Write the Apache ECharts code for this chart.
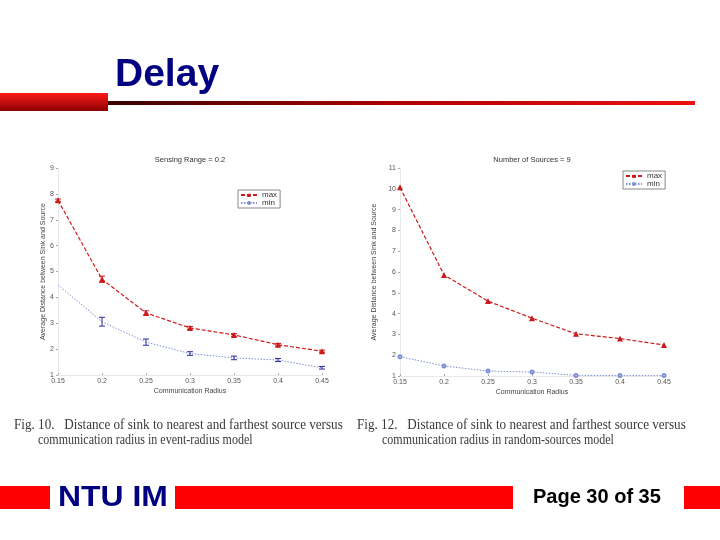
<!DOCTYPE html>
<html><head><meta charset="utf-8">
<script src="https://cdn.jsdelivr.net/npm/echarts@6/dist/echarts.min.js"></script>
<style>html,body{margin:0;padding:0;background:#fff}#c{width:720px;height:540px}</style>
</head><body><div id="c"></div>
<script>
const categories = ['0.15','0.2','0.25','0.3','0.35','0.4','0.45'];
const leftMax    = [7.75, 4.70, 3.40, 2.82, 2.55, 2.17, 1.92];
const leftMaxErr = [0.05, 0.12, 0.08, 0.05, 0.05, 0.05, 0.04];
const leftMin    = [4.48, 3.06, 2.27, 1.83, 1.66, 1.58, 1.28];
const leftMinErr = [0.00, 0.17, 0.12, 0.07, 0.07, 0.06, 0.05];
const rightMax   = [10.07, 5.86, 4.60, 3.78, 3.03, 2.80, 2.49];
const rightMin   = [1.93, 1.48, 1.24, 1.19, 1.03, 1.02, 1.02];
const leftTitle  = 'Sensing Range = 0.2';
const rightTitle = 'Number of Sources = 9';
const xName = 'Communication Radius';
const yName = 'Average Distance between Sink and Source';

const chart = echarts.init(document.getElementById('c'));
const MAXC = '#cc1a1a', MINC = '#7f8fd6', ERRC = '#2a2aa0';
const tickFont = {fontSize: 7, color: '#555', fontFamily: 'Arial'};

function errData(vals, errs){ return vals.map((v,i)=>[i, v-errs[i], v+errs[i]]); }
function errSeries(vals, errs, xi, yi, color){
  return {type:'custom', xAxisIndex:xi, yAxisIndex:yi, silent:true, z:5,
    data: errData(vals, errs),
    renderItem: function(params, api){
      const lo = api.coord([api.value(0), api.value(1)]);
      const hi = api.coord([api.value(0), api.value(2)]);
      if (Math.abs(hi[1]-lo[1]) < 1) return null;
      const w = 3;
      return {type:'group', children:[
        {type:'line', shape:{x1:lo[0],y1:lo[1],x2:hi[0],y2:hi[1]}, style:{stroke:color,lineWidth:1}},
        {type:'line', shape:{x1:lo[0]-w,y1:lo[1],x2:lo[0]+w,y2:lo[1]}, style:{stroke:color,lineWidth:1}},
        {type:'line', shape:{x1:hi[0]-w,y1:hi[1],x2:hi[0]+w,y2:hi[1]}, style:{stroke:color,lineWidth:1}}
      ]};
    }};
}
function xAxis(gi){
  return {type:'category', gridIndex:gi, data:categories, boundaryGap:false,
    axisLine:{show:true, lineStyle:{color:'#e8e8e8'}}, axisTick:{show:true, length:2, inside:true, lineStyle:{color:'#aaa'}},
    axisLabel:Object.assign({margin:3}, tickFont), splitLine:{show:false},
    name:xName, nameLocation:'middle', nameGap:13, nameTextStyle:{fontSize:7, color:'#444', fontFamily:'Arial'}};
}
function yAxis(gi, max, gap){
  return {type:'value', gridIndex:gi, min:1, max:max, interval:1,
    axisLine:{show:true, lineStyle:{color:'#e8e8e8'}}, axisTick:{show:true, length:2, lineStyle:{color:'#aaa'}},
    axisLabel:Object.assign({margin:4}, tickFont), splitLine:{show:false},
    name:yName, nameLocation:'middle', nameGap:gap, nameTextStyle:{fontSize:7, color:'#444', fontFamily:'Arial'}};
}
function legend(left, top){
  return {left:left, top:top, orient:'vertical', data:['max','min'], itemWidth:16, itemHeight:5, itemGap:0,
    padding:[1,3,1,2], borderColor:'#888', borderWidth:1, backgroundColor:'#fff',
    textStyle:{fontSize:8, color:'#333', fontFamily:'Arial'}, selectedMode:false};
}
function lineMax(vals, gi){
  return {name:'max', type:'line', xAxisIndex:gi, yAxisIndex:gi, data:vals, color:MAXC,
    symbol:'triangle', symbolSize:6, lineStyle:{color:MAXC, width:1.2, type:[4,2]}, itemStyle:{color:MAXC}, z:4};
}
function lineMin(vals, gi, sym){
  return {name:'min', type:'line', xAxisIndex:gi, yAxisIndex:gi, data:vals, color:MINC,
    symbol:sym, symbolSize:3, lineStyle:{color:MINC, width:1, type:[1.5,1.5]}, itemStyle:{color:MINC}, z:3};
}
const redGrad = {type:'linear', x:0, y:0, x2:0, y2:1, colorStops:[{offset:0,color:'#ff1a1a'},{offset:1,color:'#8a0000'}]};
const lineGrad = {type:'linear', x:0, y:0, x2:1, y2:0, colorStops:[{offset:0,color:'#3a0000'},{offset:0.5,color:'#b00000'},{offset:1,color:'#ee1010'}]};

chart.setOption({
  animation:false,
  grid:[{left:58, top:168, width:264, height:207}, {left:400, top:168, width:264, height:208}],
  xAxis:[xAxis(0), xAxis(1)],
  yAxis:[yAxis(0, 9, 7), yAxis(1, 11, 22)],
  legend:[legend(238, 190), legend(623, 171)],
  series:[
    lineMax(leftMax, 0), lineMin(leftMin, 0, 'none'),
    errSeries(leftMax, leftMaxErr, 0, 0, MAXC), errSeries(leftMin, leftMinErr, 0, 0, ERRC),
    lineMax(rightMax, 1), lineMin(rightMin, 1, 'emptyCircle')
  ],
  graphic:[
    {type:'text', x:115, y:95, style:{text:'Delay', font:'bold 39px Arial', fill:'#000080', align:'left', verticalAlign:'bottom'}},
    {type:'rect', shape:{x:0, y:93, width:108, height:18}, style:{fill:redGrad}},
    {type:'rect', shape:{x:108, y:101, width:587, height:4}, style:{fill:lineGrad}},
    {type:'text', x:190, y:160, style:{text:leftTitle, font:'7.5px Arial', fill:'#333', align:'center', verticalAlign:'middle'}},
    {type:'text', x:532, y:160, style:{text:rightTitle, font:'7.5px Arial', fill:'#333', align:'center', verticalAlign:'middle'}},
    {type:'text', x:14, y:425, scaleX:0.875, style:{text:'Fig. 10.   Distance of sink to nearest and farthest source versus', font:'15px "Liberation Serif"', fill:'#3a3a3a', verticalAlign:'middle'}},
    {type:'text', x:38, y:440, scaleX:0.80, style:{text:'communication radius in event-radius model', font:'15px "Liberation Serif"', fill:'#3a3a3a', verticalAlign:'middle'}},
    {type:'text', x:357, y:425, scaleX:0.875, style:{text:'Fig. 12.   Distance of sink to nearest and farthest source versus', font:'15px "Liberation Serif"', fill:'#3a3a3a', verticalAlign:'middle'}},
    {type:'text', x:382, y:440, scaleX:0.80, style:{text:'communication radius in random-sources model', font:'15px "Liberation Serif"', fill:'#3a3a3a', verticalAlign:'middle'}},
    {type:'rect', shape:{x:0, y:486, width:50, height:23}, style:{fill:'#ff0000'}},
    {type:'text', x:58, y:497.5, scaleX:1.1, style:{text:'NTU IM', font:'bold 29px Arial', fill:'#000080', verticalAlign:'middle'}},
    {type:'rect', shape:{x:175, y:486, width:338, height:23}, style:{fill:'#ff0000'}},
    {type:'text', x:533, y:497.5, style:{text:'Page 30 of 35', font:'bold 20px Arial', fill:'#000', verticalAlign:'middle'}},
    {type:'rect', shape:{x:684, y:486, width:36, height:23}, style:{fill:'#ff0000'}}
  ]
});
</script></body></html>
